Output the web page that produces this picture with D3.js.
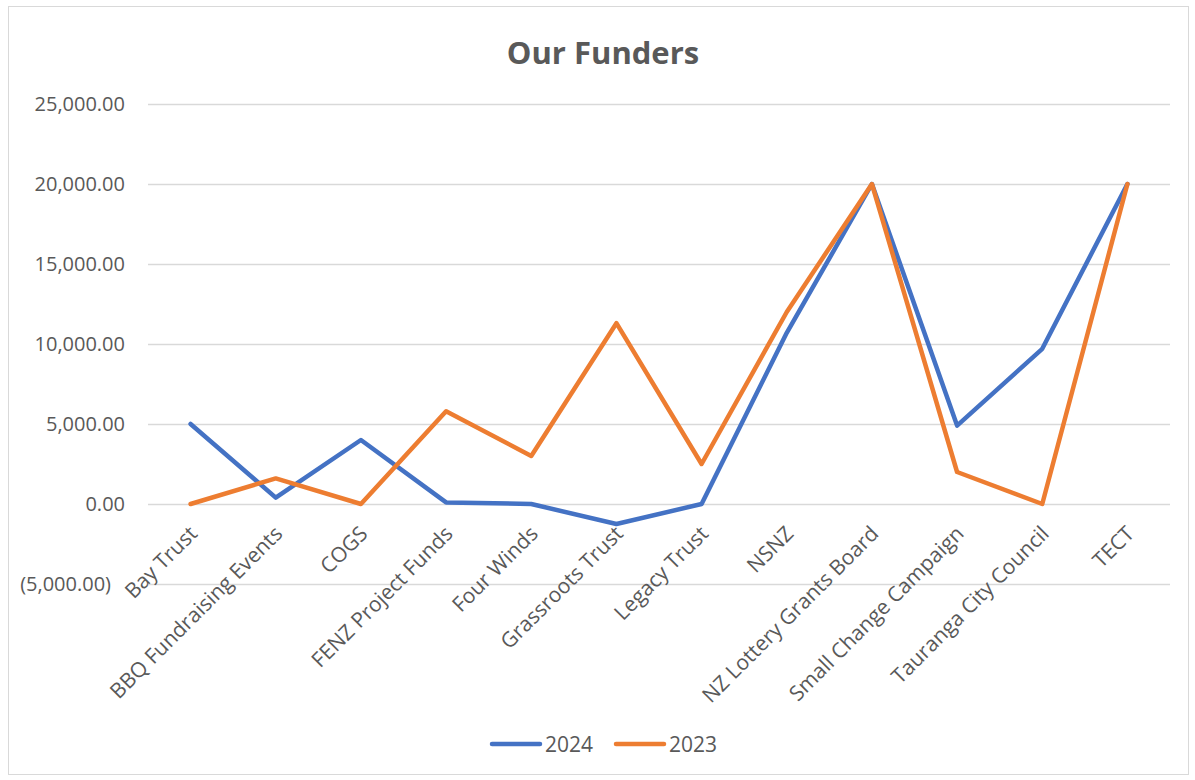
<!DOCTYPE html>
<html>
<head>
<script src="https://d3js.org/d3.v7.min.js"></script>
<style>
body { margin: 0; background: #fff; }
text { font-family: "Open Sans", sans-serif; fill: #595959; }
</style>
</head>
<body>
<svg width="1195" height="780"></svg>
<script>
// data
var funders = ["Bay Trust", "BBQ Fundraising Events", "COGS", "FENZ Project Funds", "Four Winds",
  "Grassroots Trust", "Legacy Trust", "NSNZ", "NZ Lottery Grants Board", "Small Change Campaign",
  "Tauranga City Council", "TECT"];
var values2024 = [5000, 400, 4000, 100, 0, -1250, 0, 10700, 20000, 4900, 9700, 20000];
var values2023 = [0, 1600, 0, 5800, 3000, 11300, 2500, 12000, 20000, 2000, 0, 20000];
var yTicks = [-5000, 0, 5000, 10000, 15000, 20000, 25000];

var series = [
  {name: "2024", values: values2024, color: "#4472C4"},
  {name: "2023", values: values2023, color: "#ED7D31"}
];

var svg = d3.select("svg");

// chart border
svg.append("rect")
  .attr("x", 8.5).attr("y", 6.5)
  .attr("width", 1180).attr("height", 768)
  .attr("fill", "none").attr("stroke", "#d9d9d9").attr("stroke-width", 1);

// title
svg.append("text")
  .attr("x", 603).attr("y", 64)
  .attr("text-anchor", "middle")
  .style("font-size", "31px").style("font-weight", "bold")
  .text("Our Funders");

var x = d3.scaleBand().domain(funders).range([148, 1170]);
var y = d3.scaleLinear().domain([-5000, 25000]).range([584, 104]);

var fmt = function(d) {
  var s = d3.format(",.2f")(Math.abs(d));
  return d < 0 ? "(" + s + ")" : s;
};

// y axis, gridlines only
var yAxis = svg.append("g")
  .attr("transform", "translate(148,0)")
  .call(d3.axisLeft(y).tickValues(yTicks).tickSize(-1022).tickPadding(23).tickFormat(fmt));
yAxis.select(".domain").remove();
yAxis.selectAll("line").attr("stroke", "#d9d9d9").attr("stroke-width", 1.5);
yAxis.selectAll("text")
  .attr("fill", "#595959")
  .style("font-size", "20px")
  .style("font-family", "'Open Sans', sans-serif")
  .attr("dx", function(d) { return d < 0 ? -14 : 0; });

// category labels, rotated
svg.append("g").selectAll("text")
  .data(funders)
  .enter().append("text")
  .attr("transform", function(d) {
    return "translate(" + (x(d) + x.bandwidth() / 2 + 8) + ",535)rotate(-45)";
  })
  .attr("text-anchor", "end")
  .style("font-size", "21px")
  .text(function(d) { return d; });

// lines
var line = d3.line()
  .x(function(d, i) { return x(funders[i]) + x.bandwidth() / 2; })
  .y(function(d) { return y(d); });

svg.append("g").selectAll("path")
  .data(series)
  .enter().append("path")
  .attr("d", function(s) { return line(s.values); })
  .attr("fill", "none")
  .attr("stroke", function(s) { return s.color; })
  .attr("stroke-width", 4.5)
  .attr("stroke-linejoin", "round")
  .attr("stroke-linecap", "round");

// legend
var legend = svg.append("g").selectAll("g")
  .data(series)
  .enter().append("g")
  .attr("transform", function(s, i) { return "translate(" + (492 + i * 124) + ",744)"; });
legend.append("line")
  .attr("x1", 0).attr("x2", 48)
  .attr("stroke", function(s) { return s.color; })
  .attr("stroke-width", 4.5)
  .attr("stroke-linecap", "round");
legend.append("text")
  .attr("x", 53).attr("y", 8)
  .style("font-size", "21px")
  .text(function(s) { return s.name; });
</script>
</body>
</html>
